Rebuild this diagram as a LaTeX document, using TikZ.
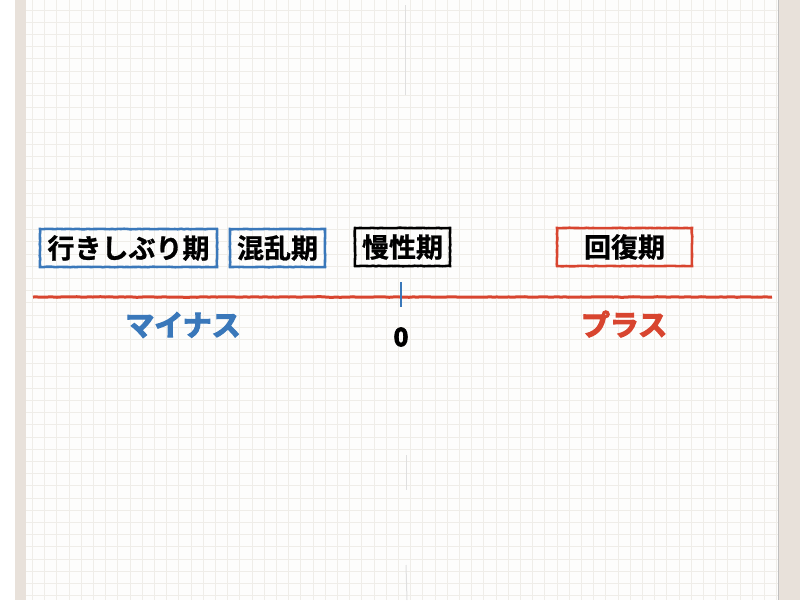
\documentclass[tikz,border=0pt]{standalone}
\usepackage{fontspec}
\setmainfont{Noto Sans CJK JP}
\newfontfamily\heavy{Noto Sans CJK JP Bold}[FakeBold=4]
\newfontfamily\semiheavy{Noto Sans CJK JP Bold}[FakeBold=1]
\usetikzlibrary{decorations.pathmorphing}
\definecolor{paper}{HTML}{FDFDFC}
\definecolor{gridc}{HTML}{EFEDE8}
\definecolor{strip}{HTML}{E8E1DA}
\definecolor{myblue}{HTML}{3A78BA}
\definecolor{myred}{HTML}{D8452F}
\tikzset{
  period/.style={draw=#1, line width=2.6pt, minimum height=38pt, inner sep=0pt,
    font=\semiheavy\fontsize{27}{27}\selectfont, text=black,
    decorate, decoration={random steps, segment length=3pt, amplitude=0.25pt}},
  label/.style={font=\heavy\fontsize{29}{29}\selectfont, text=#1},
}
\begin{document}
\begin{tikzpicture}[x=1pt,y=-1pt]
\useasboundingbox (0,0) rectangle (800,600);
\fill[white] (0,0) rectangle (800,600);
\fill[paper] (26,0) rectangle (778,600);
% grid
\foreach \i in {0,...,62} {
  \draw[gridc, line width=0.7pt] ({32.3+12.2*\i},0) -- ({32.3+12.2*\i},600);
}
\foreach \j in {0,...,49} {
  \draw[gridc, line width=0.7pt] (26,{10+12.2*\j}) -- (778,{10+12.2*\j});
}
% strips
\fill[strip] (15,0) rectangle (26,600);
\fill[strip] (779,0) rectangle (800,600);
\draw[gray!50, line width=1pt] (778.5,0) -- (778.5,600);
% center fold marks
\draw[gray!25, line width=1pt] (405,5) -- (405,95);
\draw[gray!25, line width=1pt] (406,455) -- (406,490);
\draw[gray!25, line width=1pt] (406,565) -- (407,600);
% axis
\coordinate (L) at (33,297);
\coordinate (R) at (772,297);
\draw[myred, line width=3pt, decorate, decoration={random steps, segment length=4pt, amplitude=0.3pt}] (L) -- (R);
\coordinate (T1) at (401,282);
\coordinate (T2) at (401,307);
\draw[myblue, line width=2.5pt] (T1) -- (T2);
\node[font=\heavy\fontsize{25}{25}\selectfont] (zero) at (401,337) {0};
% period boxes
\node[period=myblue, minimum width=177pt] (a) at (128.5,248) {行きしぶり期};
\node[period=myblue, minimum width=95pt] (b) at (277.5,248) {混乱期};
\node[period=black, minimum width=95pt] (c) at (402.5,247) {慢性期};
\node[period=myred, minimum width=135pt] (d) at (624.5,247) {回復期};
% labels
\node[label=myblue] (minus) at (183,325) {マイナス};
\node[label=myred] (plus) at (624,324) {プラス};
\end{tikzpicture}
\end{document}
